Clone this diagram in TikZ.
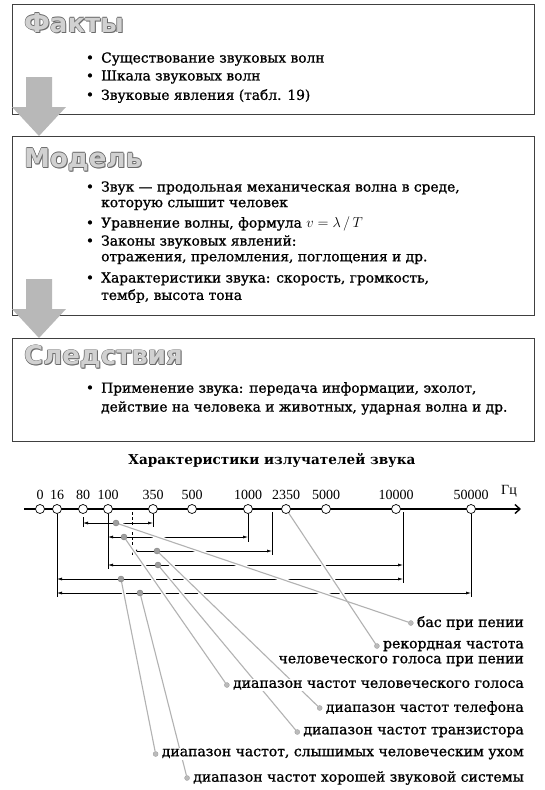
\documentclass[tikz,border=0pt]{standalone}
\usepackage{fontspec}
\setmainfont{DejaVu Serif}
\newfontfamily\bodyfont[FakeBold=1]{DejaVu Serif}
\newfontfamily\headfont{DejaVu Sans}
\newfontfamily\axisfont{Liberation Serif}
\usetikzlibrary{arrows.meta,positioning}

\pgfdeclarelayer{rows}
\pgfdeclarelayer{leads}
\pgfsetlayers{rows,leads,main}

\definecolor{boxline}{gray}{0.25}
\definecolor{arrowgray}{gray}{0.72}
\definecolor{titlelight}{gray}{0.82}
\definecolor{titledark}{gray}{0.42}
\definecolor{leadgray}{gray}{0.70}
\definecolor{dotgray}{gray}{0.62}

\newcommand{\bodysize}{\bodyfont\fontsize{13.8}{17}\selectfont}
\newcommand{\lblsize}{\bodyfont\fontsize{14}{16}\selectfont}

\tikzset{
  block/.style={draw=boxline, line width=1.3pt, anchor=north west, minimum width=522pt},
  headtxt/.style={font=\headfont\bfseries\fontsize{26}{26}\selectfont, anchor=west, inner sep=0pt},
  itm/.style={font=\bodysize, anchor=west, inner sep=0pt},
  bul/.style={font=\bodysize, inner sep=0pt},
  bigarrow/.pic={\fill[arrowgray] (0,0) -- (-27,-29) -- (-13,-29) -- (-13,-59)
    -- (13,-59) -- (13,-29) -- (27,-29) -- cycle;},
  axisline/.style={line width=1.4pt, -{Straight Barb[length=5pt,width=9pt]}},
  fmark/.style={circle, draw, fill=white, line width=0.7pt, minimum size=9pt, inner sep=0pt},
  axlab/.style={font=\axisfont\fontsize{14}{14}\selectfont, inner sep=1pt},
  tickline/.style={line width=0.6pt},
  rangeline/.style={line width=0.6pt, <->},
  rdot/.style={circle, fill=dotgray, draw=gray, line width=0.4pt, minimum size=6pt, inner sep=0pt},
  lead/.style={draw=leadgray, line width=1.1pt},
  lbl/.style={font=\lblsize, anchor=east, fill=white, inner sep=1pt},
  ldot/.style={circle, fill=dotgray!70, draw=gray!80, line width=0.3pt, minimum size=5pt, inner sep=0pt}
}

% заголовок с тенью
\newcommand{\headline}[3]{%
  \foreach \dx/\dy in {-0.7/0, 0.7/0, 0/-0.7, 0/0.7, 1/-1}
    \node[headtxt, text=titledark, xshift=\dx pt, yshift=\dy pt] at (#1) {#3};
  \node[headtxt, text=titlelight] (#2) at (#1) {#3};
}

\begin{document}
\begin{tikzpicture}[x=1pt, y=-1pt, >={Latex[length=5pt,width=3pt]}]
    \useasboundingbox (0,0) rectangle (544,790);
    % Факты
    \node[block, minimum height=110pt] (facts) at (12,4) {};
    \headline{24,23}{factsttl}{Факты}
    \node[bul] (fb1) at (90,59) {•};
    \node[itm] (f1) at (101,59) {Существование звуковых волн};
    \node[bul] (fb2) at (90,77) {•};
    \node[itm] (f2) at (101,77) {Шкала звуковых волн};
    \node[bul] (fb3) at (90,96) {•};
    \node[itm] (f3) at (101,96) {Звуковые явления (табл. 19)};
    % Модель
    \node[block, minimum height=179pt] (model) at (12,136) {};
    \headline{24,160}{modelttl}{Модель}
    \node[bul] (mb1) at (90,188) {•};
    \node[itm] (m1) at (101,188) {Звук — продольная механическая волна в среде,};
    \node[itm] (m1b) at (101,205) {которую слышит человек};
    \node[bul] (mb2) at (90,224) {•};
    \node[itm] (m2) at (101,224) {Уравнение волны, формула $v = \lambda\,/\,T$};
    \node[bul] (mb3) at (90,242) {•};
    \node[itm] (m3) at (101,242) {Законы звуковых явлений:};
    \node[itm] (m3b) at (101,259) {отражения, преломления, поглощения и др.};
    \node[bul] (mb4) at (90,279) {•};
    \node[itm] (m4) at (101,279) {Характеристики звука: скорость, громкость,};
    \node[itm] (m4b) at (101,296) {тембр, высота тона};
    % Следствия
    \node[block, minimum height=103pt] (cons) at (12,338) {};
    \headline{24,357}{consttl}{Следствия}
    \node[bul] (cb1) at (90,389) {•};
    \node[itm] (c1) at (101,389) {Применение звука: передача информации, эхолот,};
    \node[itm] (c1b) at (101,408) {действие на человека и животных, ударная волна и др.};
    % Стрелки
    \pic at ([xshift=27pt]model.north west) {bigarrow};
    \pic at ([xshift=27pt]cons.north west) {bigarrow};

    % Шкала частот
    \node[font=\fontsize{13.6}{14}\selectfont\bfseries] (chart) at (272,460) {Характеристики излучателей звука};
    \draw[axisline] (24,509) -- (521,509);
    \foreach \x/\lab/\nm in {40/0/c0, 57/16/c16, 83/80/c80, 108/100/c100, 153/350/c350,
        192/500/c500, 248/1000/c1000, 286/2350/c2350, 326/5000/c5000, 396/10000/c10000,
        471/50000/c50000}
      \node[fmark, label={[axlab, label distance=3pt]above:\lab}] (\nm) at (\x,509) {};
    \node[axlab] (hz) at (509,491) {Гц};
    \coordinate (f200) at (132,509);
    \coordinate (f3000) at (272,509);
    \coordinate (f20000) at (403,509);

    \begin{pgfonlayer}{rows}
      \draw[tickline] (c80 |- 0,517) -- (c80 |- 0,527);
      \draw[tickline] (c350.south) -- (c350 |- 0,527);
      \draw[tickline] (c100.south) -- (c100 |- 0,569);
      \draw[tickline, dash pattern=on 3pt off 2pt] ([yshift=-3pt]f200) -- (f200 |- 0,556);
      \draw[tickline] (c1000.south) -- (c1000 |- 0,542);
      \draw[tickline] ([yshift=-3pt]f3000) -- (f3000 |- 0,555);
      \draw[tickline] ([yshift=-3pt]f20000) -- (f20000 |- 0,583);
      \draw[tickline] (c16.south) -- (c16 |- 0,597);
      \draw[tickline] (c50000.south) -- (c50000 |- 0,597);
      % диапазоны
      \draw[rangeline] (c80 |- 0,523) -- (c350 |- 0,523);
      \draw[rangeline] (c100 |- 0,537) -- (c1000 |- 0,537);
      \draw[rangeline] (f200 |- 0,551) -- (f3000 |- 0,551);
      \draw[rangeline] (c100 |- 0,565) -- (f20000 |- 0,565);
      \draw[rangeline] (c16 |- 0,579) -- (f20000 |- 0,579);
      \draw[rangeline] (c16 |- 0,593) -- (c50000 |- 0,593);
    \end{pgfonlayer}
    \node[rdot] (r1) at (116,523) {};
    \node[rdot] (r2) at (124,537) {};
    \node[rdot] (r3) at (157,551) {};
    \node[rdot] (r4) at (158,565) {};
    \node[rdot] (r5) at (121,579) {};
    \node[rdot] (r6) at (140,593) {};

    % Подписи
    \node[lbl] (bas) at (525,623) {бас при пении};
    \node[lbl] (rec) at (525,646) {рекордная частота};
    \node[lbl] (rec2) at (525,661) {человеческого голоса при пении};
    \node[lbl] (voice) at (525,685) {диапазон частот человеческого голоса};
    \node[lbl] (tel) at (525,708) {диапазон частот телефона};
    \node[lbl] (tr) at (525,732) {диапазон частот транзистора};
    \node[lbl] (ear) at (525,754) {диапазон частот, слышимых человеческим ухом};
    \node[lbl] (sys) at (525,778) {диапазон частот хорошей звуковой системы};
    \foreach \nm in {bas, rec, voice, tel, tr, ear, sys}
      \node[ldot] (\nm dot) at ([xshift=-5pt]\nm.west) {};

    \begin{pgfonlayer}{leads}
      \foreach \a/\b in {r1/basdot, c2350/recdot, r2/voicedot, r3/teldot, r4/trdot, r5/eardot, r6/sysdot}
        \draw[white, line width=4pt] (\a) -- (\b);
      \foreach \a/\b in {r1/basdot, c2350/recdot, r2/voicedot, r3/teldot, r4/trdot, r5/eardot, r6/sysdot}
        \draw[lead] (\a) -- (\b);
    \end{pgfonlayer}
\end{tikzpicture}
\end{document}
